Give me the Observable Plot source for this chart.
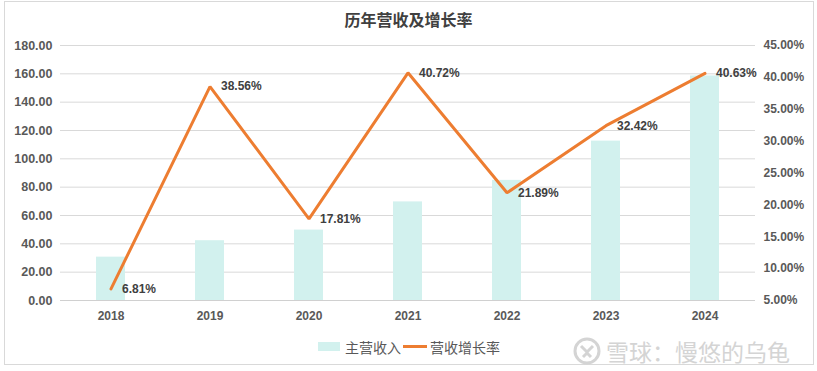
<!DOCTYPE html>
<html>
<head>
<meta charset="utf-8">
<script src="https://cdn.jsdelivr.net/npm/d3@7"></script>
<script src="https://cdn.jsdelivr.net/npm/@observablehq/plot@0.6"></script>
<style>
  html, body { margin: 0; padding: 0; background: #fff; }
  #root { position: relative; width: 817px; height: 371px; overflow: hidden; font-family: "Liberation Sans", "Noto Sans CJK SC", Arial, sans-serif; }
  .frame { position: absolute; left: 4px; top: 1px; width: 810px; height: 364px; border: 1px solid #d9d9d9; box-sizing: border-box; }
  .title { position: absolute; top: 8px; left: 0; width: 817px; text-align: center; font-family: "Noto Sans CJK SC", sans-serif; font-weight: bold; font-size: 16px; line-height: 22px; color: #404040; }
  #plot { position: absolute; left: 0; top: 30px; }
  .legend { position: absolute; top: 337px; left: 0; height: 20px; font-family: "Noto Sans CJK SC", sans-serif; font-size: 14px; color: #595959; }
  .legend span { position: absolute; white-space: nowrap; line-height: 20px; }
  .wm { position: absolute; left: 572px; top: 331px; height: 32px; font-family: "Noto Sans CJK SC", sans-serif; font-size: 23px; color: #d4d4d4; white-space: nowrap; line-height: 32px; }
</style>
</head>
<body>
<div id="root">
  <div class="frame"></div>
  <div class="title" id="title"></div>
  <div id="plot"></div>
  <div class="legend" id="legend"></div>
  <div class="wm" id="wm"></div>
</div>
<script>
const chartTitle = "历年营收及增长率";
const years = ["2018", "2019", "2020", "2021", "2022", "2023", "2024"];
const revenue = [30.6, 42.2, 49.7, 69.6, 84.8, 112.5, 158.5];
const growth = [6.81, 38.56, 17.81, 40.72, 21.89, 32.42, 40.63];
const leftTicks = [0, 20, 40, 60, 80, 100, 120, 140, 160, 180];
const rightTicks = [5, 10, 15, 20, 25, 30, 35, 40, 45];
const seriesNames = ["主营收入", "营收增长率"];
const watermark = "雪球：慢悠的乌龟";

const barColor = "#d2f1ee";
const lineColor = "#ed7d31";

// map right-axis percent onto the left-axis domain
const rMin = 5, rMax = 45, lMax = 180;
const toLeft = r => (r - rMin) / (rMax - rMin) * lMax;
const fromLeft = v => v / lMax * (rMax - rMin) + rMin;

const data = years.map((y, i) => ({ year: y, revenue: revenue[i], growth: growth[i] }));

const chart = Plot.plot({
  width: 817,
  height: 305,
  marginTop: 15,
  marginBottom: 35,
  marginLeft: 60,
  marginRight: 62,
  style: { fontFamily: "'Liberation Sans', Arial, sans-serif", fontSize: "12px", color: "#595959", background: "transparent" },
  x: { domain: years, paddingInner: 0.71, paddingOuter: 0.355, label: null },
  y: { domain: [0, lMax], label: null },
  marks: [
    Plot.gridY(leftTicks, { stroke: "#d9d9d9", strokeOpacity: 1 }),
    Plot.barY(data, { x: "year", y: "revenue", fill: barColor }),
    Plot.ruleY([0], { stroke: "#d0d0d0" }),
    Plot.axisY(leftTicks, { anchor: "left", tickSize: 0, tickPadding: 8, tickFormat: d => d.toFixed(2), fontWeight: "bold", fontSize: 12.5, label: null }),
    Plot.axisY(rightTicks.map(toLeft), { anchor: "right", tickSize: 0, tickPadding: 8, tickFormat: d => fromLeft(d).toFixed(2) + "%", fontWeight: "bold", label: null }),
    Plot.axisX({ tickSize: 0, tickPadding: 11, fontWeight: "bold", label: null }),
    Plot.line(data, { x: "year", y: d => toLeft(d.growth), stroke: lineColor, strokeWidth: 3, strokeLinejoin: "miter" }),
    Plot.text(data, { x: "year", y: d => toLeft(d.growth), text: d => d.growth.toFixed(2) + "%", dx: 11, textAnchor: "start", fontWeight: "bold", fill: "#404040" })
  ]
});
document.getElementById("plot").appendChild(chart);
document.getElementById("title").textContent = chartTitle;

const legend = document.getElementById("legend");
legend.innerHTML =
  `<span style="left:318px;top:5px;width:22px;height:9px;background:${barColor}"></span>` +
  `<span style="left:345px;top:0">${seriesNames[0]}</span>` +
  `<span style="left:403px;top:8px;width:24px;height:3px;background:${lineColor}"></span>` +
  `<span style="left:430px;top:0">${seriesNames[1]}</span>`;

document.getElementById("wm").innerHTML =
  `<svg width="30" height="30" style="vertical-align:middle;margin-right:4px" viewBox="0 0 30 30">
     <circle cx="15" cy="15" r="12" fill="none" stroke="#d4d4d4" stroke-width="3"/>
     <path d="M9 10 L15 16 L21 10 M11 21 L15 17 L19 21" fill="none" stroke="#d4d4d4" stroke-width="3"/>
   </svg><span style="vertical-align:middle">${watermark}</span>`;
</script>
</body>
</html>
